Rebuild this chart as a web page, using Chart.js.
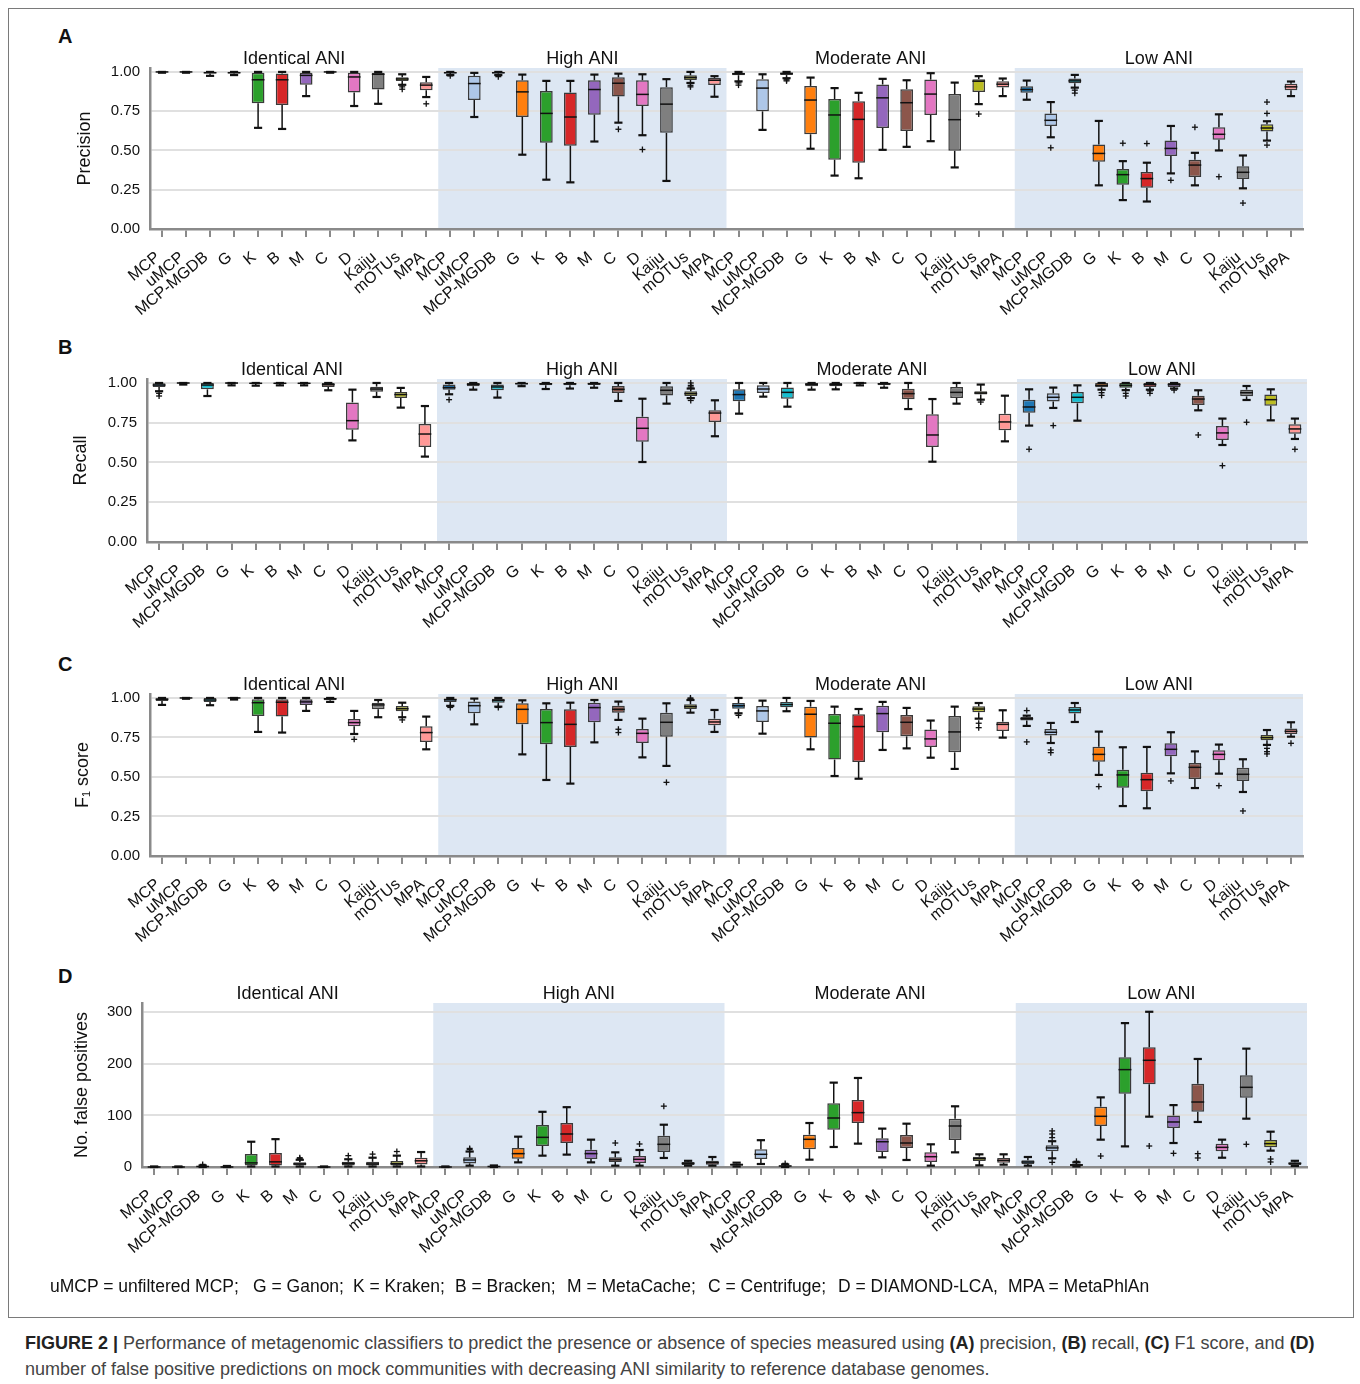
<!DOCTYPE html>
<html>
<head>
<meta charset="utf-8">
<script src="https://cdn.jsdelivr.net/npm/chart.js@4/dist/chart.umd.min.js"></script>
<style>
  body { margin: 0; background: #fff; font-family: 'Liberation Sans', Arial, sans-serif; }
  #page { position: relative; width: 1360px; height: 1384px; overflow: hidden; }
  #frame { position: absolute; left: 8px; top: 8px; width: 1346px; height: 1310px; border: 1.5px solid #7a7a7a; box-sizing: border-box; }
  .panel { position: absolute; left: 0; width: 1360px; }
  .letter { position: absolute; left: 58px; font-weight: bold; font-size: 20px; line-height: 20px; color: #111; }
  .key { position: absolute; top: 1278px; font-size: 17.5px; line-height: 17px; color: #111; white-space: nowrap; }
  #caption { position: absolute; left: 25px; top: 1330px; font-size: 18px; line-height: 26px; color: #444; white-space: nowrap; }
  #caption b { color: #222; }
</style>
</head>
<body>
<div id="page">
  <div id="frame"></div>
  <div class="letter" style="top:26px">A</div>
  <div class="letter" style="top:337px">B</div>
  <div class="letter" style="top:654px">C</div>
  <div class="letter" style="top:966px">D</div>
  <div class="panel" id="wrapA"><canvas id="chartA"></canvas></div>
  <div class="panel" id="wrapB"><canvas id="chartB"></canvas></div>
  <div class="panel" id="wrapC"><canvas id="chartC"></canvas></div>
  <div class="panel" id="wrapD"><canvas id="chartD"></canvas></div>
  <div class="key" style="left:50px">uMCP = unfiltered MCP;</div>
  <div class="key" style="left:253px">G = Ganon;</div>
  <div class="key" style="left:353px">K = Kraken;</div>
  <div class="key" style="left:455px">B = Bracken;</div>
  <div class="key" style="left:567px">M = MetaCache;</div>
  <div class="key" style="left:708px">C = Centrifuge;</div>
  <div class="key" style="left:838px">D = DIAMOND-LCA,</div>
  <div class="key" style="left:1008px">MPA = MetaPhlAn</div>
  <div id="caption"><b>FIGURE 2 |</b> Performance of metagenomic classifiers to predict the presence or absence of species measured using <b>(A)</b> precision, <b>(B)</b> recall, <b>(C)</b> F1 score, and <b>(D)</b><br>number of false positive predictions on mock communities with decreasing ANI similarity to reference database genomes.</div>
</div>
<script>
const tools = ['MCP', 'uMCP', 'MCP-MGDB', 'G', 'K', 'B', 'M', 'C', 'D', 'Kaiju', 'mOTUs', 'MPA'];
const groups = ['Identical ANI', 'High ANI', 'Moderate ANI', 'Low ANI'];
const toolColors = ['#1f77b4', '#aec7e8', '#17becf', '#ff7f0e', '#2ca02c', '#d62728', '#9467bd', '#8c564b', '#e377c2', '#7f7f7f', '#bcbd22', '#ff9896'];

// each row: [low whisker, Q1, median, Q3, high whisker, outliers]
const precisionIdentical = [
    [0.995, 1, 1, 1, 1], [0.995, 1, 1, 1, 1], [0.975, 0.99, 0.995, 1, 1], [0.98, 0.99, 0.995, 1, 1],
    [0.644, 0.80, 0.95, 0.995, 1], [0.637, 0.79, 0.95, 0.99, 1], [0.846, 0.918, 0.978, 0.995, 1],
    [0.995, 1, 1, 1, 1], [0.783, 0.869, 0.968, 0.995, 1], [0.797, 0.888, 0.985, 0.995, 1],
    [0.918, 0.943, 0.955, 0.966, 0.985, [0.905, 0.89]], [0.84, 0.884, 0.916, 0.935, 0.968, [0.797]]
];
const precisionHigh = [
    [0.98, 0.99, 0.995, 1, 1, [0.975]], [0.713, 0.821, 0.926, 0.975, 0.994], [0.98, 0.99, 0.995, 1, 1, [0.97]],
    [0.473, 0.713, 0.873, 0.947, 0.983], [0.314, 0.549, 0.736, 0.878, 0.943], [0.297, 0.53, 0.713, 0.869, 0.943],
    [0.557, 0.728, 0.888, 0.947, 0.983], [0.677, 0.844, 0.928, 0.966, 0.989, [0.635]],
    [0.597, 0.783, 0.857, 0.947, 0.985, [0.506]], [0.306, 0.612, 0.795, 0.903, 0.954],
    [0.93, 0.949, 0.964, 0.979, 1, [0.915, 0.905]], [0.842, 0.916, 0.947, 0.962, 0.973]
];
const precisionModerate = [
    [0.94, 0.979, 0.988, 0.994, 1, [0.93, 0.916]], [0.631, 0.749, 0.897, 0.954, 0.985], [0.96, 0.98, 0.99, 0.997, 1, [0.95, 0.943]],
    [0.511, 0.603, 0.821, 0.911, 0.964], [0.34, 0.441, 0.726, 0.827, 0.897], [0.323, 0.422, 0.698, 0.814, 0.867],
    [0.504, 0.643, 0.835, 0.92, 0.956], [0.523, 0.624, 0.804, 0.89, 0.947], [0.559, 0.726, 0.859, 0.951, 0.992],
    [0.392, 0.498, 0.696, 0.859, 0.932], [0.795, 0.873, 0.941, 0.954, 0.973, [0.732]], [0.846, 0.901, 0.922, 0.941, 0.958]
];
const precisionLow = [
    [0.823, 0.867, 0.888, 0.909, 0.945], [0.584, 0.656, 0.692, 0.736, 0.808, [0.517]], [0.9, 0.928, 0.943, 0.958, 0.981, [0.884, 0.865]],
    [0.278, 0.428, 0.481, 0.538, 0.688], [0.184, 0.281, 0.346, 0.382, 0.432, [0.546]], [0.175, 0.262, 0.321, 0.363, 0.422, [0.544]],
    [0.354, 0.464, 0.513, 0.563, 0.656, [0.31]], [0.278, 0.331, 0.407, 0.441, 0.485, [0.648]], [0.5, 0.568, 0.603, 0.648, 0.73, [0.333]],
    [0.259, 0.319, 0.361, 0.399, 0.468, [0.165]], [0.563, 0.62, 0.643, 0.667, 0.686, [0.808, 0.736, 0.534]], [0.846, 0.884, 0.905, 0.924, 0.939]
];

const recallIdentical = [
    [0.948, 0.975, 0.987, 0.998, 1, [0.935, 0.918]], [0.99, 0.997, 1, 1, 1], [0.918, 0.96, 0.987, 1, 1],
    [0.985, 0.995, 1, 1, 1], [0.983, 0.993, 0.998, 1, 1], [0.985, 0.993, 0.998, 1, 1],
    [0.985, 0.993, 0.998, 1, 1], [0.954, 0.975, 0.99, 1, 1], [0.639, 0.706, 0.763, 0.878, 0.958],
    [0.912, 0.945, 0.962, 0.977, 1], [0.845, 0.906, 0.927, 0.943, 0.969], [0.537, 0.597, 0.679, 0.742, 0.855]
];
const recallHigh = [
    [0.929, 0.958, 0.971, 0.99, 1, [0.895]], [0.958, 0.979, 0.992, 1, 1], [0.908, 0.954, 0.975, 0.99, 1],
    [0.98, 0.99, 0.996, 1, 1], [0.962, 0.985, 0.995, 1, 1], [0.965, 0.985, 0.995, 1, 1],
    [0.97, 0.988, 0.996, 1, 1], [0.887, 0.937, 0.96, 0.981, 1], [0.503, 0.631, 0.715, 0.788, 0.901],
    [0.87, 0.922, 0.954, 0.979, 1], [0.905, 0.918, 0.933, 0.948, 0.965, [1, 0.985, 0.975, 0.89]], [0.665, 0.755, 0.811, 0.828, 0.891]
];
const recallModerate = [
    [0.807, 0.885, 0.927, 0.96, 1], [0.914, 0.937, 0.962, 0.985, 1], [0.851, 0.901, 0.941, 0.971, 1],
    [0.958, 0.979, 0.992, 1, 1], [0.96, 0.98, 0.99, 1, 1], [0.985, 0.995, 1, 1, 1],
    [0.97, 0.985, 0.995, 1, 1], [0.836, 0.897, 0.933, 0.964, 1], [0.505, 0.597, 0.673, 0.803, 0.899],
    [0.87, 0.906, 0.941, 0.975, 1], [0.895, 0.927, 0.937, 0.948, 0.99, [0.88]], [0.633, 0.702, 0.755, 0.807, 0.92]
];
const recallLow = [
    [0.732, 0.813, 0.849, 0.895, 0.96, [0.583]], [0.843, 0.883, 0.91, 0.935, 0.971, [0.732]], [0.763, 0.872, 0.91, 0.943, 0.985],
    [0.958, 0.973, 0.985, 1, 1, [0.939, 0.922]], [0.955, 0.97, 0.985, 1, 1, [0.935, 0.918]], [0.958, 0.975, 0.99, 1, 1, [0.95, 0.935]],
    [0.965, 0.975, 0.99, 1, 1, [0.955]], [0.828, 0.862, 0.899, 0.92, 0.954, [0.673]], [0.61, 0.642, 0.686, 0.73, 0.776, [0.48]],
    [0.893, 0.916, 0.939, 0.958, 0.981, [0.753]], [0.765, 0.857, 0.895, 0.927, 0.96], [0.648, 0.681, 0.711, 0.74, 0.776, [0.583]]
];

const f1Identical = [
    [0.956, 0.981, 0.992, 0.998, 1], [0.995, 1, 1, 1, 1], [0.954, 0.975, 0.987, 1, 1], [0.99, 1, 1, 1, 1],
    [0.785, 0.886, 0.97, 0.992, 1], [0.781, 0.882, 0.973, 0.992, 1], [0.918, 0.956, 0.975, 0.992, 1],
    [0.975, 0.985, 0.995, 1, 1], [0.772, 0.821, 0.844, 0.867, 0.918, [0.738]], [0.878, 0.928, 0.956, 0.97, 0.987],
    [0.878, 0.916, 0.932, 0.949, 0.97, [0.861]], [0.675, 0.722, 0.781, 0.821, 0.882]
];
const f1High = [
    [0.95, 0.975, 0.99, 0.995, 1, [0.94]], [0.833, 0.903, 0.951, 0.977, 0.996], [0.945, 0.97, 0.985, 0.995, 1, [0.94]],
    [0.643, 0.833, 0.928, 0.966, 0.985], [0.481, 0.707, 0.844, 0.93, 0.966], [0.458, 0.69, 0.833, 0.928, 0.97],
    [0.719, 0.846, 0.939, 0.97, 0.987], [0.861, 0.907, 0.928, 0.951, 0.977, [0.802, 0.781]], [0.624, 0.715, 0.776, 0.804, 0.869],
    [0.57, 0.755, 0.846, 0.907, 0.966, [0.466]], [0.907, 0.93, 0.945, 0.96, 0.987, [1, 0.995]], [0.785, 0.827, 0.848, 0.869, 0.924]
];
const f1Moderate = [
    [0.903, 0.932, 0.951, 0.968, 1, [0.89]], [0.774, 0.848, 0.918, 0.949, 0.983], [0.916, 0.941, 0.958, 0.975, 1],
    [0.675, 0.749, 0.897, 0.945, 0.981], [0.506, 0.61, 0.84, 0.899, 0.945], [0.489, 0.595, 0.819, 0.897, 0.93],
    [0.671, 0.783, 0.901, 0.951, 0.975], [0.681, 0.757, 0.846, 0.892, 0.937], [0.622, 0.69, 0.741, 0.8, 0.857],
    [0.551, 0.656, 0.785, 0.886, 0.945], [0.869, 0.909, 0.93, 0.947, 0.968, [0.84, 0.812]], [0.749, 0.791, 0.833, 0.85, 0.922]
];
const f1Low = [
    [0.823, 0.857, 0.869, 0.88, 0.888, [0.92, 0.722]], [0.715, 0.762, 0.783, 0.804, 0.842, [0.671, 0.654]], [0.848, 0.901, 0.924, 0.943, 0.968],
    [0.513, 0.597, 0.643, 0.692, 0.787, [0.439]], [0.316, 0.432, 0.513, 0.546, 0.688], [0.302, 0.409, 0.483, 0.527, 0.69],
    [0.523, 0.631, 0.675, 0.713, 0.783, [0.475]], [0.43, 0.487, 0.561, 0.589, 0.662], [0.521, 0.606, 0.643, 0.669, 0.705, [0.445]],
    [0.405, 0.475, 0.517, 0.559, 0.612, [0.285]], [0.703, 0.732, 0.749, 0.766, 0.797, [0.681, 0.66, 0.646]], [0.755, 0.772, 0.789, 0.806, 0.846, [0.713]]
];

const fpIdentical = [
    [0, 0, 0, 0, 1], [0, 0, 0, 0, 1], [0, 0, 1, 2, 3, [5]], [0, 0, 0, 1, 2],
    [1, 3, 8, 25, 49], [1, 3, 10, 27, 54], [1, 3, 6, 9, 14, [16, 18]], [0, 0, 0, 0, 1],
    [1, 3, 7, 10, 15, [22]], [1, 3, 6, 10, 18, [25]], [1, 3, 6.5, 11.6, 22, [30]], [1, 5, 12, 18, 29]
];
const fpHigh = [
    [0, 0, 0, 0, 1], [2.6, 7, 13.6, 18.7, 30, [34, 36]], [0, 0, 1, 2, 3], [9, 16.2, 25.9, 36.9, 58.8],
    [22, 40.7, 57.5, 81.5, 107], [24, 46.5, 64, 85.3, 116], [9, 15.5, 25.9, 33.6, 53], [2.6, 9.7, 14.2, 18.7, 28.4, [46.5]],
    [2.6, 7.8, 14.9, 21.3, 33, [44.6]], [17.5, 29, 44, 60.8, 82, [118]], [2.6, 4, 7, 9.7, 12], [2.6, 4.5, 8.4, 12.3, 19.4]
];
const fpModerate = [
    [1, 2.6, 4.5, 7, 8.4], [5.8, 15.5, 24.6, 34.3, 52], [0, 1, 2, 3, 5, [7]], [14.2, 34.3, 53.7, 62.7, 85.3],
    [38.8, 72.4, 95, 123.5, 163.6], [45.3, 85.3, 105.4, 130, 172.6], [18.7, 29, 49, 55.6, 74.4], [13.6, 36.9, 46.5, 62, 84],
    [2.6, 9.7, 20, 28.4, 44], [28.4, 52.4, 79.5, 93.7, 117.7], [3.2, 11.6, 16.2, 20, 24.6], [4.5, 8.4, 12.9, 17.5, 24.6]
];
const fpLow = [
    [2.6, 5.8, 9.7, 12.9, 19.4], [16.8, 30.4, 37, 42, 50, [57, 64, 70, 9]], [1, 2, 4, 6, 9, [11]], [53, 79.5, 98.3, 117, 135, [21.3]],
    [40, 142.2, 188.8, 212.7, 279], [97.6, 160.3, 206.9, 232, 301, [40.7]], [46.5, 75.6, 87.3, 100, 120, [26.5]],
    [87.3, 107.3, 126, 161.6, 209.5, [25.9, 17.5]], [18, 30.4, 38.1, 45.3, 53], [93.7, 134.5, 154.5, 177.8, 229.5, [44]],
    [31.7, 38.1, 45.3, 52.4, 68.5, [15.5, 9.7]], [2, 4, 7, 9, 12]
];

Chart.defaults.font.family = "'Liberation Sans', Arial, sans-serif";
Chart.defaults.color = '#111';

const labels = groups.flatMap(() => tools);
const axisGray = '#8a8a8a';

function line(ctx, x1, y1, x2, y2) {
    ctx.beginPath();
    ctx.moveTo(x1, y1);
    ctx.lineTo(x2, y2);
    ctx.stroke();
}

const boxPlugin = {
    id: 'boxes',
    beforeDraw(chart) {
        const {ctx, chartArea, scales: {x}} = chart;
        const half = (x.getPixelForValue(1) - x.getPixelForValue(0)) / 2;
        ctx.save();
        ctx.fillStyle = '#dde7f3';
        [1, 3].forEach(g => {
            const x1 = x.getPixelForValue(g * tools.length) - half;
            const x2 = x.getPixelForValue(g * tools.length + tools.length - 1) + half;
            ctx.fillRect(x1, chartArea.top, x2 - x1, chartArea.bottom - chartArea.top);
        });
        ctx.restore();
    },
    afterDatasetsDraw(chart) {
        const {ctx, scales: {x, y}} = chart;
        const ds = chart.data.datasets[0];
        const meta = chart.getDatasetMeta(0);
        const py = v => y.getPixelForValue(v);
        ctx.save();
        ctx.strokeStyle = '#111';
        meta.data.forEach((bar, i) => {
            const s = ds.stats[i];
            const cx = bar.x;
            const w = bar.width;
            ctx.lineWidth = 1.5;
            line(ctx, cx, py(s[1]), cx, py(s[0]));
            line(ctx, cx, py(s[3]), cx, py(s[4]));
            ctx.lineWidth = 2.2;
            line(ctx, cx - w * 0.32, py(s[0]), cx + w * 0.32, py(s[0]));
            line(ctx, cx - w * 0.32, py(s[4]), cx + w * 0.32, py(s[4]));
            ctx.lineWidth = 1.5;
            line(ctx, cx - w / 2, py(s[2]), cx + w / 2, py(s[2]));
            ctx.lineWidth = 1.3;
            (s[5] || []).forEach(v => {
                const p = py(v);
                line(ctx, cx - 3, p, cx + 3, p);
                line(ctx, cx, p - 3, cx, p + 3);
            });
        });
        // group titles
        ctx.fillStyle = '#111';
        ctx.font = "18px 'Liberation Sans', Arial, sans-serif";
        ctx.textAlign = 'center';
        ctx.textBaseline = 'alphabetic';
        groups.forEach((g, k) => {
            const a = x.getPixelForValue(k * tools.length);
            const b = x.getPixelForValue(k * tools.length + tools.length - 1);
            ctx.fillText(g, (a + b) / 2, chart.chartArea.top - 4);
        });
        ctx.restore();
    }
};

function buildPanel(id, stats, yTitle, area, yMax, step, decimals) {
    const wrap = document.getElementById('wrap' + id);
    const padTop = 30;
    const xHeight = 110;
    wrap.style.top = (area.top - padTop) + 'px';
    wrap.style.height = (area.bottom - area.top + padTop + xHeight) + 'px';
    const padLeft = area.titleX - 11;

    new Chart(document.getElementById('chart' + id), {
        type: 'bar',
        data: {
            labels,
            datasets: [{
                data: stats.map(s => [s[1], s[3]]),
                stats,
                backgroundColor: stats.map((s, i) => toolColors[i % tools.length]),
                borderColor: '#3a3a3a',
                borderWidth: 1.5,
                borderSkipped: false,
                barPercentage: 0.53,
                categoryPercentage: 1
            }]
        },
        options: {
            responsive: true,
            maintainAspectRatio: false,
            animation: false,
            events: [],
            layout: {padding: {top: padTop, left: padLeft, right: 1360 - area.right, bottom: 0}},
            plugins: {legend: {display: false}, tooltip: {enabled: false}},
            scales: {
                x: {
                    grid: {drawOnChartArea: false, drawTicks: true, tickLength: 8, color: axisGray, lineWidth: 2, offset: false},
                    border: {color: axisGray, width: 2.5},
                    ticks: {autoSkip: false, minRotation: 40, maxRotation: 40, padding: 11, labelOffset: -4, font: {size: 16}, color: '#111'},
                    afterFit: s => { s.height = xHeight; }
                },
                y: {
                    min: 0,
                    max: yMax,
                    grid: {color: '#e0e0e0', lineWidth: 2, drawTicks: false},
                    border: {color: axisGray, width: 2.5},
                    ticks: {stepSize: step, includeBounds: false, padding: 10, font: {size: 15}, color: '#111',
                        callback: v => v.toFixed(decimals)},
                    title: {display: true, text: yTitle, font: {size: 18}, color: '#111', padding: 0},
                    afterFit: s => { s.width = area.left - padLeft; }
                }
            }
        },
        plugins: [boxPlugin]
    });
}

buildPanel('A', [...precisionIdentical, ...precisionHigh, ...precisionModerate, ...precisionLow], 'Precision',
    {top: 68, bottom: 229, left: 150, right: 1303, titleX: 85}, 1.025, 0.25, 2);
buildPanel('B', [...recallIdentical, ...recallHigh, ...recallModerate, ...recallLow], 'Recall',
    {top: 379, bottom: 542, left: 147, right: 1307, titleX: 81}, 1.025, 0.25, 2);
buildPanel('C', [...f1Identical, ...f1High, ...f1Moderate, ...f1Low], 'F\u2081 score',
    {top: 694, bottom: 856, left: 150, right: 1303, titleX: 83}, 1.025, 0.25, 2);
buildPanel('D', [...fpIdentical, ...fpHigh, ...fpModerate, ...fpLow], 'No. false positives',
    {top: 1003, bottom: 1167, left: 142, right: 1307, titleX: 82}, 318, 100, 0);
</script>
</body>
</html>
